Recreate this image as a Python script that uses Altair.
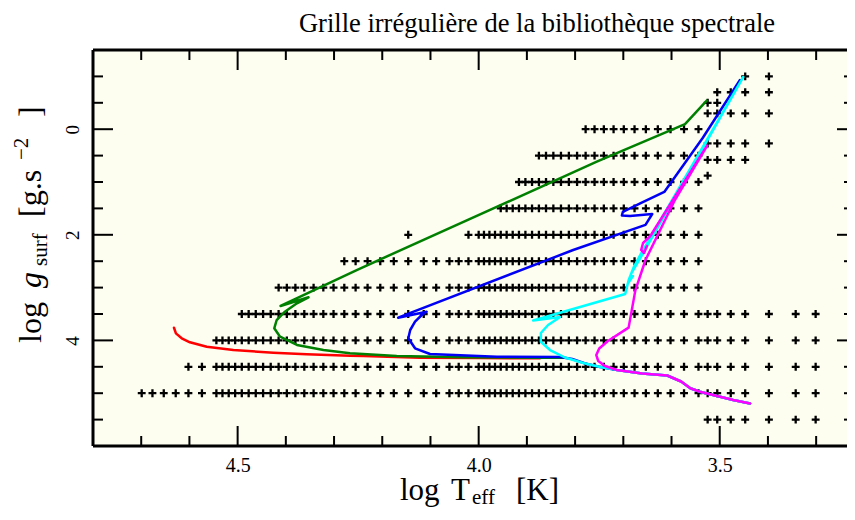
import math
import altair as alt
import pandas as pd

# ---------------- data ----------------
kurucz_teff = [3500, 3750, 4000, 4250, 4500, 4750, 5000, 5250, 5500, 5750,
               6000, 6250, 6500, 6750, 7000, 7250, 7500, 7750, 8000, 8250,
               8500, 8750, 9000, 9250, 9500, 9750, 10000, 10500, 11000, 11500,
               12250, 13000, 14000, 15000, 16000, 17000, 18000, 19000, 20000,
               21000, 22000, 23000, 24000, 25000, 26000, 27000, 28000, 29000,
               30000, 31000, 32000, 33000, 34000, 35000, 37500, 40000, 42500,
               45000, 47500, 50000]
kurucz_logg = [0.0, 0.5, 1.0, 1.5, 2.0, 2.5, 3.0, 3.5, 4.0, 4.5, 5.0]
kurucz_teff_max = [6000, 7500, 8250, 9000, 10500, 19000, 26000, 31000, 35000, 40000, 50000]
extra_teff = [14000]
extra_logg = [2.0]

mdwarf_teff = [3350, 3200, 3000, 2800, 2500, 2200, 2000]
mdwarf_logg = [3.5, 4.0, 4.5, 5.0, 5.5]

mgiant_logg = [-1.0, -0.7, -0.5, -0.3, 0.27, 0.58, 0.88]
mgiant_teff_rows = [[2800, 2500],
                    [3200, 3000, 2800, 2500],
                    [3350, 3200],
                    [3350, 3200, 3000, 2800, 2500],
                    [3350, 3200, 3000, 2800, 2500],
                    [3350, 3200, 3000, 2800],
                    [3350]]

red_logT = [4.632, 4.628, 4.616, 4.599, 4.564, 4.509, 4.426, 4.357, 4.267, 4.239, 4.122, 3.997, 3.873]
red_logg = [3.760, 3.866, 3.960, 4.036, 4.119, 4.182, 4.233, 4.263, 4.290, 4.295, 4.328, 4.333, 4.339]

green_logT = [3.825, 3.879, 4.032, 4.170, 4.240, 4.267, 4.322, 4.377, 4.412, 4.424, 4.419,
              4.402, 4.377, 4.353, 4.411, 4.253, 3.755, 3.572, 3.527]
green_logg = [4.328, 4.328, 4.320, 4.295, 4.258, 4.244, 4.182, 4.087, 3.930, 3.771, 3.614,
              3.456, 3.297, 3.184, 3.348, 2.667, 0.616, -0.098, -0.540]

blue_logT = [3.437, 3.472, 3.541, 3.561, 3.580, 3.609, 3.661, 3.713, 3.748, 3.779, 3.806,
             3.831, 3.962, 4.101, 4.132, 4.146, 4.142, 4.132, 4.118, 4.108, 4.167, 3.804,
             3.654, 3.640, 3.686, 3.703, 3.701, 3.665, 3.615, 3.535, 3.458]
blue_logg = [5.195, 5.129, 4.972, 4.907, 4.778, 4.665, 4.627, 4.561, 4.504, 4.438, 4.352,
             4.314, 4.309, 4.258, 4.150, 3.960, 3.803, 3.646, 3.519, 3.456, 3.570, 2.288,
             1.813, 1.606, 1.644, 1.634, 1.568, 1.407, 1.189, 0.161, -0.932]

cyan_logT = [3.437, 3.472, 3.541, 3.561, 3.580, 3.609, 3.661, 3.713, 3.748, 3.783, 3.821,
             3.852, 3.871, 3.871, 3.856, 3.831, 3.887, 3.696, 3.689, 3.678, 3.665, 3.451,
             3.655, 3.684, 3.690, 3.680]
cyan_logg = [5.195, 5.129, 4.972, 4.907, 4.778, 4.665, 4.627, 4.561, 4.504, 4.428, 4.324,
             4.182, 4.025, 3.860, 3.708, 3.557, 3.623, 3.121, 2.862, 2.606, 2.383, -0.989,
             2.288, 2.742, 2.913, 2.780]

magenta_logT = [3.437, 3.472, 3.541, 3.561, 3.580, 3.609, 3.661, 3.713, 3.738, 3.752, 3.756,
                3.750, 3.732, 3.689, 3.675, 3.654, 3.593, 3.526, 3.644, 3.659, 3.663, 3.657, 3.651]
magenta_logg = [5.195, 5.129, 4.972, 4.907, 4.778, 4.665, 4.627, 4.561, 4.485, 4.390, 4.277,
                4.153, 4.011, 3.758, 3.053, 2.477, 1.341, 0.309, 2.023, 2.155, 2.288, 2.345, 2.212]

x_major = [4.5, 4.0, 3.5]
x_minor = [4.7, 4.6, 4.4, 4.3, 4.2, 4.1, 3.9, 3.8, 3.7, 3.6, 3.4, 3.3]
y_major = [0, 2, 4]
y_minor = [-1.0, -0.5, 0.5, 1.0, 1.5, 2.5, 3.0, 3.5, 4.5, 5.0, 5.5]

# ---------------- tables ----------------
rows = []
for g, tmax in zip(kurucz_logg, kurucz_teff_max):
    for t in kurucz_teff:
        if t <= tmax:
            rows.append((math.log10(t), g))
for t, g in zip(extra_teff, extra_logg):
    rows.append((math.log10(t), g))
for g in mdwarf_logg:
    for t in mdwarf_teff:
        rows.append((math.log10(t), g))
for g, ts in zip(mgiant_logg, mgiant_teff_rows):
    for t in ts:
        rows.append((math.log10(t), g))
grid_df = pd.DataFrame(rows, columns=["logT", "logg"])

W, H = 754, 396
SERIF = "Liberation Serif"

xscale = alt.Scale(domain=[3.236, 4.8], reverse=True, nice=False, zero=False)
yscale = alt.Scale(domain=[-1.5, 6.0], reverse=True, nice=False, zero=False)
xaxis = alt.Axis(values=x_major, format=".1f", title=None, ticks=False, tickSize=0,
                 domain=False, grid=False, labelFont=SERIF, labelFontSize=20,
                 labelColor="black", labelPadding=9, labelBaseline="top", labelFlush=False)
yaxis = alt.Axis(values=y_major, format="d", title=None, ticks=False, tickSize=0,
                 domain=False, grid=False, labelFont=SERIF, labelFontSize=19,
                 labelColor="black", labelPadding=15, labelAngle=270, labelAlign="center",
                 labelBaseline="alphabetic", labelFlush=False)
X = alt.X("logT:Q", scale=xscale, axis=xaxis)
Y = alt.Y("logg:Q", scale=yscale, axis=yaxis)

layers = []
layers.append(
    alt.Chart(grid_df).mark_point(shape="M-1,0H1M0,-1V1", size=62, filled=False,
                                  color="black", strokeWidth=2.3, opacity=1)
    .encode(x=X, y=Y)
)

tracks = [("red", red_logT, red_logg, "#ff0000"),
          ("green", green_logT, green_logg, "#008000"),
          ("blue", blue_logT, blue_logg, "#0000f5"),
          ("cyan", cyan_logT, cyan_logg, "#00ffff"),
          ("magenta", magenta_logT, magenta_logg, "#ff00ff")]
for name, lt, lg, col in tracks:
    df = pd.DataFrame({"logT": lt, "logg": lg, "i": list(range(len(lt)))})
    layers.append(
        alt.Chart(df).mark_line(color=col, strokeWidth=2.5, strokeJoin="round", strokeCap="round")
        .encode(x=X, y=Y, order="i:Q")
    )

# ticks (inward) and frame
xmaj = pd.DataFrame({"logT": x_major})
xmin = pd.DataFrame({"logT": x_minor})
ymaj = pd.DataFrame({"logg": y_major})
ymin = pd.DataFrame({"logg": y_minor})
tk = dict(color="black", strokeWidth=2)
layers += [
    alt.Chart(xmaj).mark_rule(**tk).encode(x=X, y=alt.value(H), y2=alt.value(H - 20)),
    alt.Chart(xmin).mark_rule(**tk).encode(x=X, y=alt.value(H), y2=alt.value(H - 10)),
    alt.Chart(xmaj).mark_rule(**tk).encode(x=X, y=alt.value(0), y2=alt.value(20)),
    alt.Chart(xmin).mark_rule(**tk).encode(x=X, y=alt.value(0), y2=alt.value(10)),
    alt.Chart(ymaj).mark_rule(**tk).encode(y=Y, x=alt.value(0), x2=alt.value(20)),
    alt.Chart(ymin).mark_rule(**tk).encode(y=Y, x=alt.value(0), x2=alt.value(10)),
    alt.Chart(ymaj).mark_rule(**tk).encode(y=Y, x=alt.value(W), x2=alt.value(W - 10)),
    alt.Chart(ymin).mark_rule(**tk).encode(y=Y, x=alt.value(W), x2=alt.value(W - 3)),
]
one = pd.DataFrame({"k": [0]})
fr = dict(color="black", strokeWidth=3)
layers += [
    alt.Chart(one).mark_rule(**fr).encode(x=alt.value(0), y=alt.value(0), y2=alt.value(H)),
    alt.Chart(one).mark_rule(**fr).encode(x=alt.value(0), x2=alt.value(W), y=alt.value(0)),
    alt.Chart(one).mark_rule(**fr).encode(x=alt.value(0), x2=alt.value(W), y=alt.value(H)),
]

def txt(s, x, y, size, angle=0, style="normal", align="left"):
    kw = dict(text=s, font=SERIF, fontSize=size, align=align, baseline="alphabetic",
              color="black", fontStyle=style)
    if angle:
        kw["angle"] = angle
    return alt.Chart(one).mark_text(**kw).encode(x=alt.value(x), y=alt.value(y))

layers += [
    txt("Grille irrégulière de la bibliothèque spectrale", 444, -18, 26.5, align="center"),
    # x title
    txt("log", 307, 450, 31),
    txt("T", 358, 450, 31),
    txt("eff", 379, 454, 21),
    txt("[K]", 423, 450, 31),
    # y title (rotated)
    txt("log", -52, 293, 32, angle=270),
    txt("g", -52, 238, 32, angle=270, style="italic"),
    txt("surf", -46, 216, 21, angle=270),
    txt("[g.s", -52, 167, 32, angle=270),
    txt("\u22122", -65, 110, 21, angle=270),
    txt("]", -52, 67, 32, angle=270),
]

chart = alt.layer(*layers).properties(
    width=W, height=H,
    padding={"left": 85, "top": 42, "right": 0, "bottom": 64},
    autosize=alt.AutoSizeParams(type="none"),
    background="white",
).configure_view(stroke=None, fill="#fdfdf0")

chart.save("out.html", embed_options={"renderer": "svg", "actions": False})
